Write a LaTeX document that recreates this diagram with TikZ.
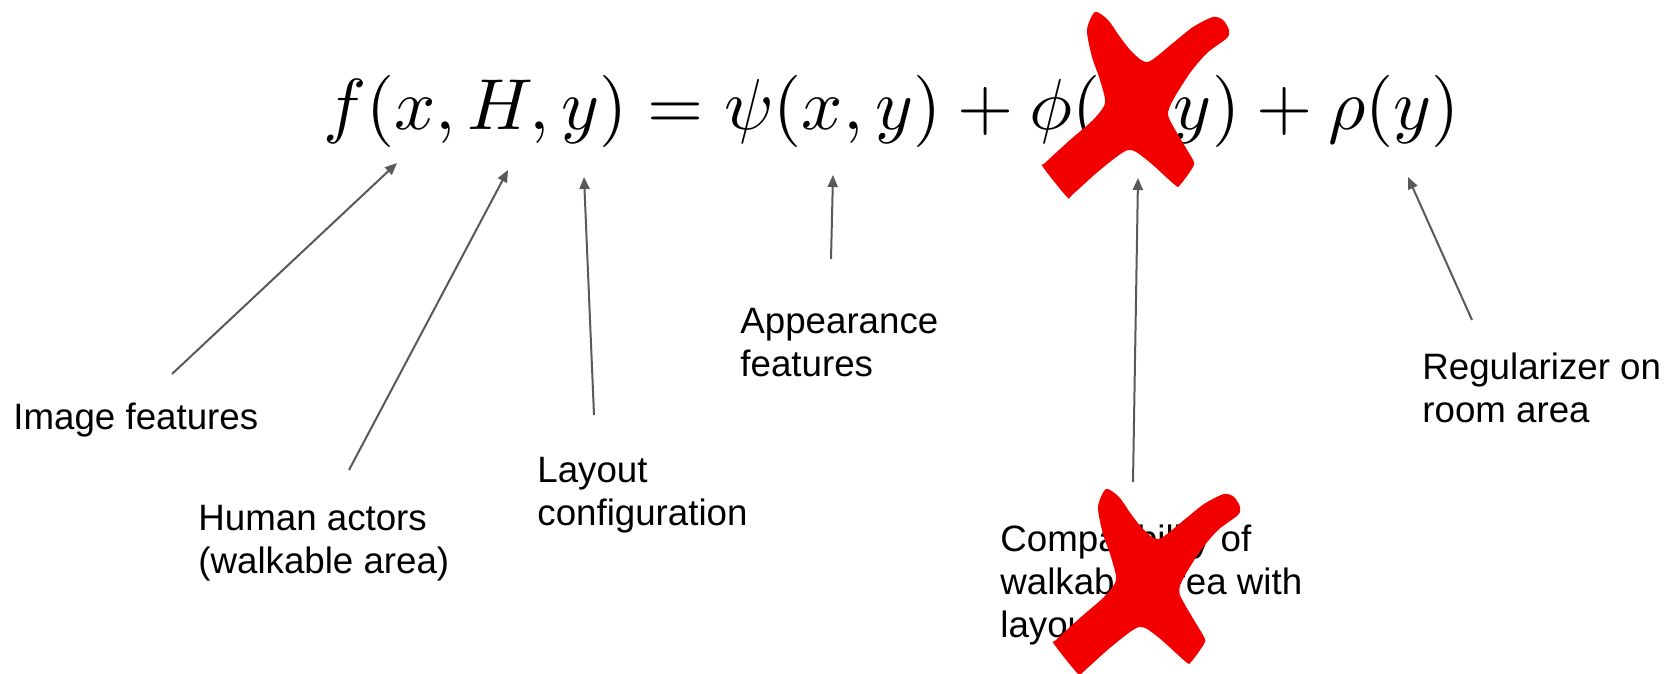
\documentclass[tikz,border=0pt]{standalone}
\usepackage{graphicx}
\usepackage{fontspec}
\newfontfamily\labelfont{Liberation Sans}
\usepackage{tikz}
\usetikzlibrary{positioning, arrows.meta}

\definecolor{pfeilgrau}{RGB}{89,89,89}
\definecolor{kreuzrot}{RGB}{242,0,0}

% rotes Kreuz, verschoben um (#1,#2)
\newcommand{\kreuz}[2]{%
    \fill[strike, shift={(#1,#2)}] plot[smooth cycle, tension=0.45] coordinates {
        (1087,30) (1095,12) (1108,20) (1120,37) (1133,53) (1148,62)
        (1173,43) (1193,27) (1213,17) (1223,20) (1229,30) (1227,38)
        (1207,53) (1190,73) (1173,100) (1168,115) (1177,133) (1193,160)
        (1193,167) (1180,185) (1175,185) (1147,160) (1128,150)
        (1100,170) (1072,195) (1067,197) (1043,167) (1045,163)
        (1070,140) (1093,120) (1105,103) (1100,80) (1092,57)};}

\begin{document}
\begin{tikzpicture}[
            x=0.5pt, y=-0.5pt,
            annot/.style={anchor=north west, inner sep=0pt, align=left, font=\labelfont\fontsize{18.35}{21.5}\selectfont},
            formula/.style={anchor=base west, inner sep=0pt},
            pointer/.style={draw=pfeilgrau, line width=1pt, -{Triangle[length=6pt, width=5pt]}},
            strike/.style={fill=kreuzrot}
        ]

        \useasboundingbox (0,0) rectangle (1666,674);

        % Gleichung
        \node[formula] (eq) at (323,130) {\scalebox{3.61}{$f(x, H, y) = \psi(x, y) + \phi(x, y) + \rho(y)$}};

        % Beschriftungen
        \node[annot] (img) at (13,403) {Image features};
        \node[annot] (hum) at (198,505) {Human actors\\(walkable area)};
        \node[annot] (lay) at (537,457) {Layout\\configuration};
        \node[annot] (app) at (740,308) {Appearance\\features};
        \node[annot] (comp) at (1000,525) {Compatibility of\\walkable area with\\layout};
        \node[annot] (reg) at (1422,353) {Regularizer on\\room area};

        % Pfeilspitzen und -enden
        \coordinate (fx) at (397,163);
        \coordinate (fH) at (508,170);
        \coordinate (fy) at (584,177);
        \coordinate (psi) at (833,175);
        \coordinate (phi) at (1138,178);
        \coordinate (rho) at (1408,177);
        \coordinate (imgtail) at (172,374);
        \coordinate (humtail) at (349,470);
        \coordinate (laytail) at (594,415);
        \coordinate (apptail) at (831,259);
        \coordinate (comptail) at (1133,482);
        \coordinate (regtail) at (1472,320);

        % Pfeile
        \draw[pointer] (imgtail) -- (fx);
        \draw[pointer] (humtail) -- (fH);
        \draw[pointer] (laytail) -- (fy);
        \draw[pointer] (apptail) -- (psi);
        \draw[pointer] (comptail) -- (phi);
        \draw[pointer] (regtail) -- (rho);

        % Kreuze
        \kreuz{0}{0}
        \kreuz{11}{477}

    \end{tikzpicture}
\end{document}
